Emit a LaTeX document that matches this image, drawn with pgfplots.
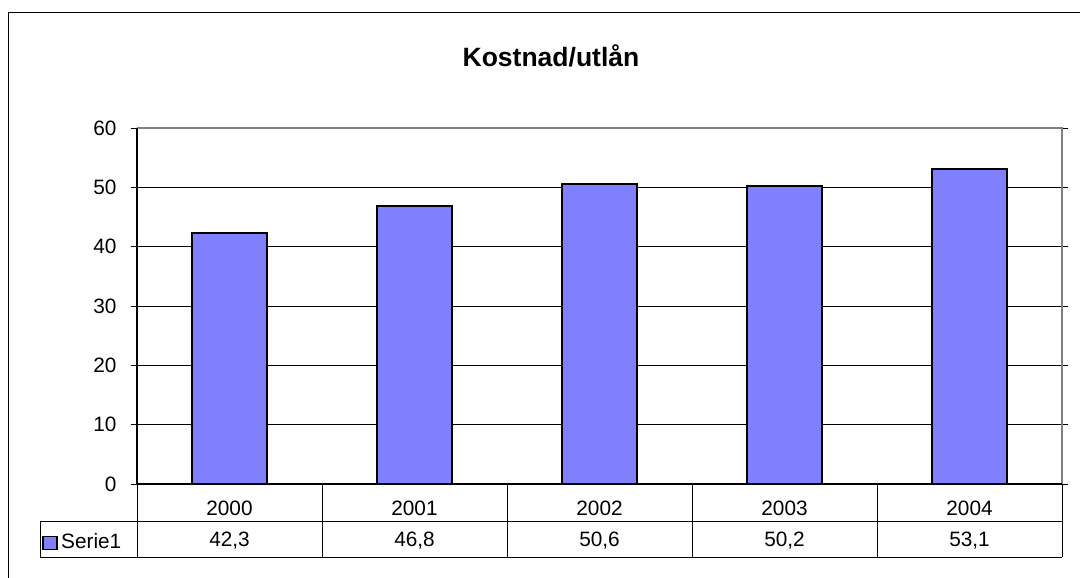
\documentclass[border=0pt]{standalone}
\usepackage{pgfplots}
\pgfplotsset{compat=1.18}
\usepackage{pgfplotstable}
\usepackage{fontspec}
\setmainfont{Liberation Sans}
\definecolor{barblue}{HTML}{8080FF}
\definecolor{framegray}{HTML}{808080}
\pgfplotstableread{
x year val
0 2000 42.3
1 2001 46.8
2 2002 50.6
3 2003 50.2
4 2004 53.1
}\datatable
\newcommand{\tf}{\fontsize{20.8bp}{25bp}\selectfont}
\begin{document}
\begin{tikzpicture}[x=1bp,y=1bp]
\path[use as bounding box] (-137,-94) rectangle (943,484);
\fill[white] (-137,-94) rectangle (943,484);
\begin{axis}[at={(0,0)}, anchor=south west, scale only axis,
  width=925bp, height=356bp,
  xmin=-0.5, xmax=4.5, ymin=0, ymax=60, ytick={0,10,...,60},
  xtick={0,...,4}, xticklabels={2000,2001,2002,2003,2004},
  xtick style={draw=none},
  ymajorgrids, grid style={black, line width=0.9bp},
  axis line style={draw=none},
  tick align=outside, major tick length=6bp,
  ytick style={black, line width=0.9bp},
  ticklabel style={font=\tf, black},
  yticklabel style={xshift=-11bp},
  xticklabel style={anchor=center, yshift=-18bp},
  /pgf/number format/assume math mode=true,
  clip=false]
\addplot[ybar, bar width=75bp, fill=barblue, draw=black, line width=1.8bp] table[x=x,y=val]{\datatable};
\addplot[draw=none, mark=none, point meta=explicit,
  nodes near coords,
  nodes near coords style={anchor=center, yshift=-57bp, font=\tf, black,
    /pgf/number format/.cd, use comma, fixed, precision=1, fixed zerofill}]
  table[x=x, y expr=0, meta=val]{\datatable};
\end{axis}
\draw[framegray, line width=1.8bp] (0,356) -- (925,356) -- (925,0);
\draw[black, line width=1.2bp] (0,0) -- (0,356);
\draw[black, line width=1bp] (0,0) -- (925,0);
% data table
\draw[black, line width=0.9bp] (-97,-37) -- (925,-37);
\draw[black, line width=0.9bp] (-97,-73) -- (925,-73);
\draw[black, line width=0.9bp] (-97,-37) -- (-97,-73);
\foreach \k in {0,...,5} {\draw[black, line width=0.9bp] (185*\k,0) -- (185*\k,-73);}
\filldraw[fill=barblue, draw=black, line width=1.2bp] (-94,-52.5) rectangle (-80,-65.5);
\node[anchor=west, font=\tf, inner sep=0pt] at (-76,-57) {Serie1};
\node[anchor=base, inner sep=0pt, font=\bfseries\fontsize{26.5bp}{31bp}\selectfont] at (414,417) {Kostnad/utlån};
\draw[black, line width=1bp] (-128,-94) -- (-128,471) -- (943,471);
\end{tikzpicture}
\end{document}
